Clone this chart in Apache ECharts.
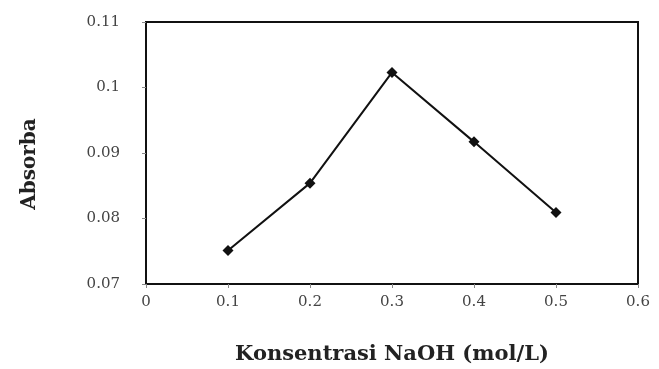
<!DOCTYPE html>
<html>
<head>
<meta charset="utf-8">
<script src="https://cdn.jsdelivr.net/npm/echarts@6/dist/echarts.min.js"></script>
<style>html,body{margin:0;padding:0;background:#fff;}#c{width:659px;height:369px;}</style>
</head>
<body>
<div id="c"></div>
<script>
const concentrations = [0.1, 0.2, 0.3, 0.4, 0.5];
const absorbance = [0.0751, 0.0854, 0.1023, 0.0917, 0.0809];
const xTitle = 'Konsentrasi NaOH (mol/L)';
const yTitle = 'Absorba';

const chart = echarts.init(document.getElementById('c'));
const fam = '"DejaVu Serif", "Liberation Serif", serif';
chart.setOption({
  backgroundColor: '#fff',
  animation: false,
  grid: { left: 146, right: 21, top: 22, bottom: 85, outerBoundsMode: 'none', containLabel: false, show: true, borderColor: '#111', borderWidth: 2, backgroundColor: 'transparent' },
  xAxis: {
    type: 'value', min: 0, max: 0.6, interval: 0.1,
    name: xTitle, nameLocation: 'middle', nameGap: 60,
    nameTextStyle: { fontFamily: fam, fontWeight: 'bold', fontSize: 21, color: '#222' },
    axisLine: { show: true, lineStyle: { color: '#111', width: 2 } },
    axisTick: { show: true, inside: false, length: 4, lineStyle: { color: '#888' } },
    axisLabel: { fontFamily: fam, fontSize: 15, color: '#444', margin: 11, formatter: v => String(+v.toFixed(1)) },
    splitLine: { show: false }
  },
  yAxis: {
    type: 'value', min: 0.07, max: 0.11, interval: 0.01,
    name: yTitle, nameLocation: 'middle', nameGap: 106, nameRotate: 90,
    nameTextStyle: { fontFamily: fam, fontWeight: 'bold', fontSize: 20, color: '#222', padding: [0, 22, 0, 0] },
    axisLine: { show: true, lineStyle: { color: '#111', width: 2 } },
    axisTick: { show: true, inside: false, length: 4, lineStyle: { color: '#888' } },
    axisLabel: { fontFamily: fam, fontSize: 15, color: '#444', margin: 26, formatter: v => String(+v.toFixed(2)) },
    splitLine: { show: false }
  },
  series: [{
    type: 'line',
    data: concentrations.map((c, i) => [c, absorbance[i]]),
    symbol: 'diamond', symbolSize: 11,
    itemStyle: { color: '#111' },
    lineStyle: { color: '#111', width: 2 }
  }]
});
</script>
</body>
</html>
